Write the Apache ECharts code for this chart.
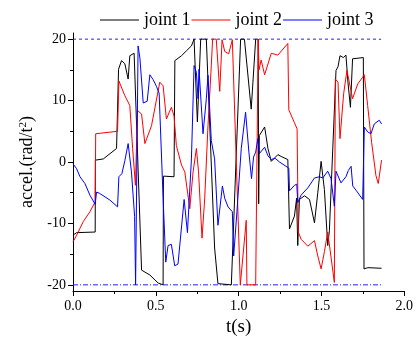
<!DOCTYPE html>
<html>
<head>
<meta charset="utf-8">
<script src="https://cdn.jsdelivr.net/npm/echarts@6/dist/echarts.min.js"></script>
<style>
  html, body { margin: 0; padding: 0; background: #fff; }
  #chart { width: 416px; height: 342px; }
</style>
</head>
<body>
<div id="chart"></div>
<script>
// joint 1 (black)
const t1 = [0, 0.022, 0.134, 0.135, 0.183, 0.263, 0.275, 0.293, 0.313, 0.333, 0.343, 0.369, 0.376, 0.414, 0.464, 0.514, 0.522, 0.544, 0.546, 0.61, 0.615, 0.655, 0.685, 0.715, 0.731, 0.751, 0.771, 0.805, 0.855, 0.875, 0.956, 1.012, 1.035, 1.076, 1.103, 1.118, 1.121, 1.125, 1.157, 1.177, 1.197, 1.237, 1.257, 1.297, 1.303, 1.307, 1.337, 1.35, 1.357, 1.367, 1.398, 1.428, 1.458, 1.478, 1.498, 1.518, 1.538, 1.548, 1.588, 1.6, 1.612, 1.632, 1.648, 1.66, 1.675, 1.688, 1.699, 1.753, 1.757, 1.78, 1.863]
const y1 = [-11.9, -11.5, -11.4, 0.3, 0.5, 2.2, 15.1, 16.5, 16.0, 13.5, 17.3, 17.7, 17.6, -17.6, -18.4, -19.7, -20, -20, -2.3, -2.4, 16.5, 17.3, 18.1, 18.9, 20, 6.5, 20, 20, -14, -19.8, -20, 20, 20, 8.6, 20, 20, -6.8, 4.3, 5.7, 2.2, 0.1, 1.2, 0.9, 0.4, 0.4, -10.9, -8.8, -5.9, -13.6, -6.1, -5.5, -6.1, -9.9, -5.0, 0.1, -4.5, -13.6, -11.2, 14.9, 15.5, 17.3, 17.0, 17.4, 13, 8.9, 16.8, 17.0, 17.0, -17.4, -17.2, -17.3]

// joint 2 (red)
const t2 = [0, 0.022, 0.062, 0.102, 0.134, 0.137, 0.269, 0.277, 0.313, 0.343, 0.36, 0.377, 0.389, 0.414, 0.434, 0.474, 0.524, 0.544, 0.564, 0.594, 0.61, 0.624, 0.655, 0.675, 0.705, 0.725, 0.745, 0.758, 0.779, 0.795, 0.815, 0.835, 0.843, 0.865, 0.886, 0.9, 0.916, 0.94, 0.962, 1.01, 1.022, 1.046, 1.05, 1.103, 1.118, 1.123, 1.136, 1.157, 1.197, 1.237, 1.297, 1.303, 1.337, 1.353, 1.36, 1.378, 1.418, 1.458, 1.478, 1.498, 1.518, 1.538, 1.548, 1.578, 1.584, 1.6, 1.612, 1.634, 1.654, 1.664, 1.688, 1.719, 1.749, 1.759, 1.779, 1.803, 1.829, 1.843, 1.863]
const y2 = [-13, -11.9, -9.7, -8.1, -6.5, 4.6, 5.0, 13.2, 10.8, 9.2, 2.2, -3.8, 8.4, 7.8, 3.0, 5.9, 13, 12.4, 7.0, 8.9, 7.5, 2.7, -0.5, -1.6, -7.6, -1.6, 2.2, -1.6, -12.4, -6, 5.9, 15.7, 20, 20, 11.5, 19.9, 18.0, 17.6, 19.9, -20, -20, -9.5, -20, -20, 20, 15.0, 16.6, 14.2, 17.7, 17.4, 19.3, 8.5, 6.4, 5.4, -11.4, -12.6, -13.7, -12.8, -15.3, -17.4, -14.6, -11.4, -11.2, -19.6, 13.5, 13, 3.8, 11.1, 14.9, 15.1, 10.3, 12.7, 13.8, 14.2, 9.2, 3.2, -2.2, -3.5, 0.3]

// joint 3 (blue)
const t3 = [0, 0.022, 0.042, 0.072, 0.102, 0.134, 0.142, 0.16, 0.223, 0.269, 0.277, 0.295, 0.313, 0.333, 0.353, 0.372, 0.378, 0.384, 0.393, 0.404, 0.424, 0.448, 0.464, 0.484, 0.504, 0.52, 0.544, 0.56, 0.574, 0.594, 0.614, 0.634, 0.671, 0.691, 0.715, 0.731, 0.745, 0.755, 0.761, 0.785, 0.805, 0.815, 0.835, 0.855, 0.875, 0.902, 0.916, 0.936, 0.962, 0.97, 0.99, 1.016, 1.042, 1.062, 1.078, 1.09, 1.103, 1.116, 1.126, 1.137, 1.157, 1.177, 1.197, 1.22, 1.247, 1.303, 1.307, 1.337, 1.351, 1.357, 1.377, 1.418, 1.458, 1.488, 1.508, 1.538, 1.558, 1.578, 1.588, 1.6, 1.618, 1.648, 1.662, 1.679, 1.689, 1.709, 1.749, 1.759, 1.779, 1.799, 1.819, 1.849, 1.863]
const y3 = [-0.3, -1.1, -2.4, -3.5, -5.4, -6.9, -4.9, -5.1, -6.2, -7.3, -2.4, -1.9, 0.2, 3.0, -1.6, -8.9, -20, -20, 18.9, 16.9, 9.6, 9.9, 14.2, 13.4, 12.3, 11.2, -5.9, -16.3, -13.6, -13.4, -16.9, -16.6, -6.1, -11.5, 0.5, 15.7, 14.6, 10.3, 15.1, 4.6, 10.3, 14.1, 3.5, 0.5, -10.3, -3.9, -5.9, -7.3, -8.1, -15.3, -8, 2.2, 8.1, 1.6, -2.7, 0.8, 1.6, 3.8, 1.4, 1.6, 2.4, 1.0, 0.4, 0.6, 0, -1.0, -4.7, -3.8, -3.6, -6.6, -5.4, -4.2, -2.6, -2.4, -2.6, -1.5, -2.7, -7.2, -1.5, -1.4, -3.4, -2.4, -1.4, -0.7, -3.9, -4.6, -6.1, 5.7, 4.9, 4.6, 6.2, 6.8, 6.2]

// limit lines (upper / lower), drawn from t = 0 to limitEnd
const limitValues = [20, -20]
const limitEnd = 1.86

const xTicks = [0, 0.5, 1.0, 1.5, 2.0]
const yMajor = [-20, -10, 0, 10, 20]
const yMinor = [-15, -5, 5, 15]

const zip = (ts, ys) => ts.map((t, i) => [t, ys[i]])

const font = "Liberation Serif"
const chart = echarts.init(document.getElementById("chart"))

const tickLabel = { color: "#000", fontFamily: font, fontSize: 14 }

const jointSeries = (name, color, data) => ({
  name,
  type: "line",
  symbol: "none",
  color,
  lineStyle: { width: 1, color },
  data,
})

const limitSeries = (value, dash) => ({
  name: "limit " + value,
  type: "line",
  symbol: "none",
  silent: true,
  z: 1,
  lineStyle: { width: 1, color: "#1f1fff", type: dash },
  data: [[0, value], [limitEnd, value]],
})

const option = {
  animation: false,
  backgroundColor: "#fff",
  legend: {
    left: 95,
    top: 6,
    icon: "rect",
    itemWidth: 39,
    itemHeight: 1.2,
    itemGap: 1,
    textStyle: { color: "#000", fontFamily: font, fontSize: 18 },
    data: ["joint 1", "joint 2", "joint 3"],
  },
  grid: { left: 73, right: 11, top: 33, bottom: 50 },
  xAxis: {
    type: "value",
    min: xTicks[0],
    max: xTicks[xTicks.length - 1],
    interval: 0.5,
    name: "t(s)",
    nameLocation: "middle",
    nameGap: 27,
    nameTextStyle: { color: "#000", fontFamily: font, fontSize: 19 },
    axisLine: { onZero: false, lineStyle: { color: "#000", width: 1 } },
    axisTick: { length: 5, lineStyle: { color: "#000" } },
    minorTick: { show: true, splitNumber: 2, length: 3, lineStyle: { color: "#000" } },
    axisLabel: { ...tickLabel, margin: 8, formatter: (v) => v.toFixed(1) },
    splitLine: { show: false },
  },
  yAxis: [
    {
      type: "value",
      min: -21,
      max: 21,
      position: "left",
      name: "accel.(rad/t{sup|2})",
      nameLocation: "middle",
      nameGap: 33,
      nameTextStyle: {
        color: "#000",
        fontFamily: font,
        fontSize: 18,
        rich: {
          sup: { fontFamily: font, fontSize: 11, color: "#000", padding: [0, 0, 9, 0] },
        },
      },
      axisLine: { show: true, onZero: false, lineStyle: { color: "#000", width: 1 } },
      axisTick: { length: 5, customValues: yMajor, lineStyle: { color: "#000" } },
      axisLabel: { ...tickLabel, margin: 7, customValues: yMajor },
      splitLine: { show: false },
    },
    {
      type: "value",
      min: -21,
      max: 21,
      position: "left",
      offset: 0,
      axisLine: { show: false, onZero: false },
      axisTick: { show: true, length: 3, customValues: yMinor, lineStyle: { color: "#000" } },
      axisLabel: { show: false },
      splitLine: { show: false },
    },
  ],
  series: [
    limitSeries(limitValues[0], [3, 3]),
    limitSeries(limitValues[1], [5, 2, 1, 2]),
    jointSeries("joint 1", "#000000", zip(t1, y1)),
    jointSeries("joint 2", "#ff0000", zip(t2, y2)),
    jointSeries("joint 3", "#0000ff", zip(t3, y3)),
  ],
}

chart.setOption(option)
</script>
</body>
</html>
